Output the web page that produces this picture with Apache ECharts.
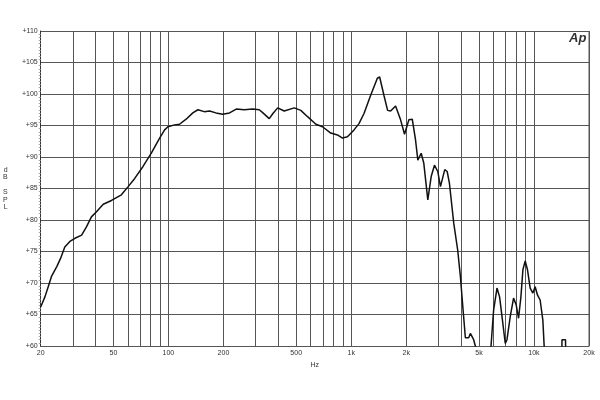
<!DOCTYPE html>
<html><head><meta charset="utf-8">
<script src="https://cdn.jsdelivr.net/npm/echarts@6/dist/echarts.min.js"></script>
<style>html,body{margin:0;padding:0;background:#fff}#c{width:600px;height:400px}</style>
</head><body><div id="c"></div>
<script>
// Frequency (Hz) and SPL (dB)
const freqHz = [20,21.1,22,22.96,24.5,25.7,27.1,28.9,30.8,33.5,35.6,37.9,40.4,44,48.8,55.3,60.2,65.4,72.6,80.6,89.5,95.3,99.4,108,115,125,136,145,157,168,182,198,216,235,260,289,314,329,356,373,396,430,488,530,577,641,697,773,841,896,954,1036,1103,1175,1278,1390,1431,1510,1582,1643,1749,1863,1958,2068,2158,2249,2315,2415,2496,2625,2739,2855,2976,3078,3250,3350,3448,3639,3826,3958,4094,4214,4393,4487,4677,4777,5089,5488,5821,6014,6276,6484,6683,6966,7117,7418,7732,7998,8233,8483,8698,8954,9215,9533,9861,10150,10446,10807,11183,11367,11656,14200,14230,14880,14910];
const splDb = [66.2,67.8,69.4,71.1,72.6,73.9,75.7,76.6,77.1,77.6,78.9,80.5,81.3,82.5,83.1,84.0,85.3,86.6,88.5,90.6,93.0,94.3,94.8,95.1,95.2,96.0,97.0,97.5,97.2,97.3,97.0,96.8,97.0,97.6,97.5,97.6,97.5,97.0,96.1,96.9,97.8,97.3,97.8,97.4,96.4,95.2,94.8,93.8,93.5,93.0,93.2,94.3,95.3,96.9,99.8,102.5,102.7,99.8,97.4,97.3,98.1,95.9,93.6,95.9,96.0,92.7,89.5,90.6,89.0,83.2,86.9,88.7,87.7,85.3,88.0,87.7,85.8,79.5,75.2,71.0,65.7,61.3,61.3,62.0,61.0,60.0,57,57,60.0,65.7,69.2,67.8,64.7,60.4,61.0,64.7,67.6,66.5,64.4,67.8,72.1,73.5,72.1,69.2,68.4,69.4,68.1,67.3,64.1,60.0,57,57,61,61,57];
const xGridValues = [20,30,40,50,60,70,80,90,100,200,300,400,500,600,700,800,900,1000,2000,3000,4000,5000,6000,7000,8000,9000,10000,20000];
const xLabelValues = [20,50,100,200,500,1000,2000,5000,10000,20000];

const chart = echarts.init(document.getElementById('c'), null, {renderer:'canvas'});
const data = freqHz.map((f,i)=>[f, splDb[i]]);
const gridColor = '#555';
chart.setOption({
  animation:false,
  grid:{left:39, right:11, top:31, bottom:54, show:false},
  xAxis:{
    type:'log', logBase:10, min:20, max:20000,
    name:'Hz', nameLocation:'middle', nameGap:15,
    nameTextStyle:{fontFamily:'Liberation Sans', fontSize:7, color:'#333'},
    axisLine:{show:true, lineStyle:{color:gridColor, width:1}},
    axisTick:{show:false, customValues:xGridValues},
    splitLine:{show:true, lineStyle:{color:gridColor, width:1}},
    axisLabel:{customValues:xLabelValues, fontFamily:'Liberation Sans', fontSize:7, color:'#333', margin:4,
      formatter:v=> v>=1000 ? (v/1000)+'k' : String(v)}
  },
  yAxis:{
    type:'value', min:60, max:110, interval:5,
    name:'d\nB\n\nS\nP\nL', nameLocation:'middle', nameRotate:0, nameGap:33,
    nameTextStyle:{fontFamily:'Liberation Sans', fontSize:7, color:'#333', lineHeight:7.5, padding:[0,0,14,0]},
    axisLine:{show:true, lineStyle:{color:'#333', width:1}},
    axisTick:{show:false},
    minorTick:{show:true, splitNumber:10, length:2, lineStyle:{color:'#aaa'}},
    splitLine:{show:true, lineStyle:{color:gridColor, width:1}},
    axisLabel:{fontFamily:'Liberation Sans', fontSize:7, color:'#333', margin:3, formatter:v=>'+'+v}
  },
  graphic:[
    {type:'line', shape:{x1:589, y1:31, x2:589, y2:346}, style:{stroke:gridColor, lineWidth:1}},
    {type:'text', left:569, top:32, style:{text:'Ap', font:'italic bold 13px "Liberation Sans"', fill:'#333'}}
  ],
  series:[{
    type:'line', data:data, showSymbol:false, clip:true, smooth:false,
    lineStyle:{color:'#111', width:1.5}
  }]
});
</script></body></html>
